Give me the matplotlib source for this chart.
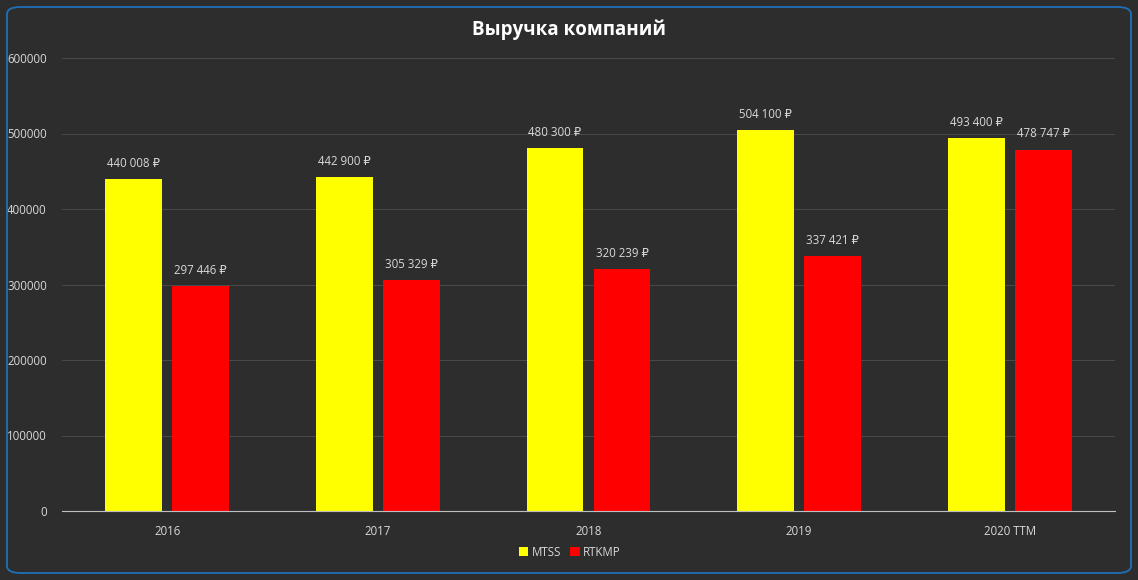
import matplotlib.pyplot as plt
from matplotlib.patches import FancyBboxPatch
import numpy as np

plt.rcParams['font.family'] = ['Open Sans', 'DejaVu Sans']

years = ['2016', '2017', '2018', '2019', '2020 TTM']
mtss = [440008, 442900, 480300, 504100, 493400]
rtkmp = [297446, 305329, 320239, 337421, 478747]

bg = '#2d2d2d'
txt = '#d9d9d9'

fig = plt.figure(figsize=(11.38, 5.8), dpi=100)
fig.patch.set_facecolor(bg)

# рамка
frame = FancyBboxPatch((7 / 1138, 7 / 580), 1124 / 1138, 566 / 580,
                       boxstyle='round,pad=0,rounding_size=0.012',
                       transform=fig.transFigure, fill=False,
                       edgecolor='#1f70b8', linewidth=1.3)
fig.patches.append(frame)

ax = fig.add_axes([62 / 1138, 69 / 580, 1053 / 1138, 453 / 580])
ax.set_facecolor(bg)

x = np.arange(len(years))
w = 0.27
off = 0.159
b1 = ax.bar(x - off, mtss, w, color='#ffff00', label='MTSS', zorder=3)
b2 = ax.bar(x + off, rtkmp, w, color='#ff0000', label='RTKMP', zorder=3)

def fmt(v):
    return f'{v:,}'.replace(',', ' ') + ' ₽'

for bars, vals in ((b1, mtss), (b2, rtkmp)):
    for b, v in zip(bars, vals):
        ax.text(b.get_x() + b.get_width() / 2, v + 12000, fmt(v),
                ha='center', va='bottom', color=txt, fontsize=8.3)

ax.set_xlim(-0.5, len(years) - 0.5)
ax.set_ylim(0, 600000)
ax.set_yticks(range(0, 600001, 100000))
ax.set_xticks(x)
ax.set_xticklabels(years)
ax.tick_params(axis='both', colors=txt, labelsize=8.3, length=0)
ax.tick_params(axis='x', pad=10)
ax.tick_params(axis='y', pad=11)
ax.grid(axis='y', color='#4a4a4a', linewidth=0.7, zorder=0)
for s in ['top', 'right', 'left']:
    ax.spines[s].set_visible(False)
ax.spines['bottom'].set_color('#bfbfbf')
ax.spines['bottom'].set_zorder(4)

fig.text(0.5, 1 - 30 / 580, 'Выручка компаний', ha='center', va='center',
         color='white', fontsize=13.5, fontweight='bold')

leg = fig.legend(handles=[b1, b2], loc='center', bbox_to_anchor=(570 / 1138, 1 - 552 / 580),
                 ncol=2, frameon=False, fontsize=8.3, handlelength=0.8, handleheight=0.8,
                 handletextpad=0.3, columnspacing=0.8, labelcolor=txt)

fig.savefig('out.png', dpi=100, facecolor=bg)
